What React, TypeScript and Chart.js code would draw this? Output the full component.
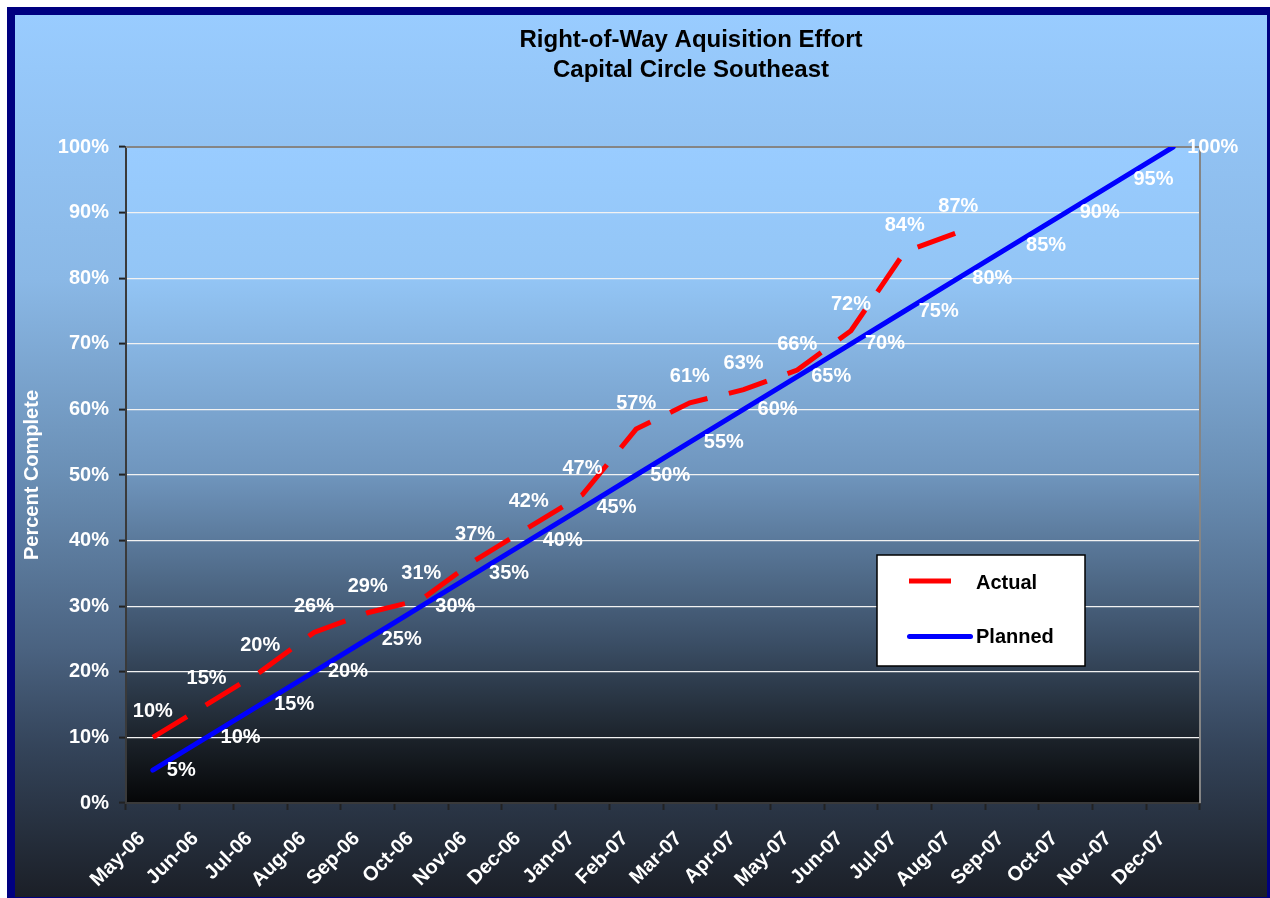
import React, { useEffect, useRef } from "react";
import { Chart, registerables } from "chart.js";

Chart.register(...registerables);

const months = [
  "May-06", "Jun-06", "Jul-06", "Aug-06", "Sep-06", "Oct-06", "Nov-06", "Dec-06",
  "Jan-07", "Feb-07", "Mar-07", "Apr-07", "May-07", "Jun-07", "Jul-07", "Aug-07",
  "Sep-07", "Oct-07", "Nov-07", "Dec-07",
];
const actualValues = [10, 15, 20, 26, 29, 31, 37, 42, 47, 57, 61, 63, 66, 72, 84, 87];
const plannedValues = [5, 10, 15, 20, 25, 30, 35, 40, 45, 50, 55, 60, 65, 70, 75, 80, 85, 90, 95, 100];
const seriesNames = ["Actual", "Planned"];
const titleLines = ["Right-of-Way Aquisition Effort", "Capital Circle Southeast"];
const yAxisTitle = "Percent Complete";
const yMin = 0;
const yMax = 100;
const yStep = 10;

const FONT = '"Liberation Sans", Arial, Helvetica, sans-serif';

const backgroundPlugin = {
  id: "plotBackground",
  beforeDraw(chart: any) {
    const { ctx, chartArea } = chart;
    const { left, top, right, bottom } = chartArea;
    const g = ctx.createLinearGradient(0, top, 0, bottom);
    g.addColorStop(0, "#99ccff");
    g.addColorStop(0.2, "#93c5f5");
    g.addColorStop(0.5, "#6f95bd");
    g.addColorStop(0.75, "#3c5068");
    g.addColorStop(0.9, "#1c232b");
    g.addColorStop(1, "#050607");
    ctx.save();
    ctx.fillStyle = g;
    ctx.fillRect(left, top, right - left, bottom - top);
    ctx.restore();

    // title
    ctx.save();
    ctx.fillStyle = "#000";
    ctx.font = `bold 24px ${FONT}`;
    ctx.textAlign = "center";
    ctx.textBaseline = "middle";
    titleLines.forEach((t, i) => ctx.fillText(t, 676, 25 + i * 30));
    ctx.restore();
  },
  beforeDatasetsDraw(chart: any) {
    const { ctx, chartArea } = chart;
    const { left, top, right, bottom } = chartArea;
    ctx.save();
    ctx.strokeStyle = "#858585";
    ctx.lineWidth = 2;
    ctx.beginPath();
    ctx.moveTo(left, top);
    ctx.lineTo(right, top);
    ctx.lineTo(right, bottom);
    ctx.stroke();
    ctx.restore();
  },
};

const labelPlugin = {
  id: "valueLabels",
  afterDatasetsDraw(chart: any) {
    const ctx = chart.ctx;
    ctx.save();
    ctx.font = `bold 20px ${FONT}`;
    ctx.fillStyle = "#ffffff";
    ctx.textBaseline = "middle";
    chart.data.datasets.forEach((ds: any, i: number) => {
      const meta = chart.getDatasetMeta(i);
      meta.data.forEach((pt: any, j: number) => {
        const v = ds.data[j];
        if (v === null || v === undefined) return;
        const txt = `${v}%`;
        if (i === 0) {
          ctx.textAlign = "center";
          ctx.fillText(txt, pt.x, pt.y - 26);
        } else {
          ctx.textAlign = "left";
          ctx.fillText(txt, pt.x + 14, pt.y);
        }
      });
    });
    ctx.restore();
  },
  afterDraw(chart: any) {
    const ctx = chart.ctx;
    const x0 = 862, y0 = 540, w = 208, h = 111;
    ctx.save();
    ctx.fillStyle = "#ffffff";
    ctx.fillRect(x0, y0, w, h);
    ctx.strokeStyle = "#000000";
    ctx.lineWidth = 1.5;
    ctx.strokeRect(x0, y0, w, h);
    const ds = chart.data.datasets;
    // Actual
    ctx.strokeStyle = ds[0].borderColor;
    ctx.lineWidth = 5;
    ctx.lineCap = "butt";
    ctx.beginPath();
    ctx.moveTo(894, 566);
    ctx.lineTo(936, 566);
    ctx.stroke();
    // Planned
    ctx.strokeStyle = ds[1].borderColor;
    ctx.lineCap = "round";
    ctx.beginPath();
    ctx.moveTo(894.5, 621.5);
    ctx.lineTo(955.5, 621.5);
    ctx.stroke();
    ctx.fillStyle = "#000";
    ctx.font = `bold 20px ${FONT}`;
    ctx.textAlign = "left";
    ctx.textBaseline = "middle";
    ctx.fillText(ds[0].label, 961, 568);
    ctx.fillText(ds[1].label, 961, 622);
    ctx.restore();
  },
};

export default function App() {
  const canvasRef = useRef<HTMLCanvasElement | null>(null);

  useEffect(() => {
    if (!canvasRef.current) return;
    const chart = new Chart(canvasRef.current, {
      type: "line",
      data: {
        labels: months,
        datasets: [
          {
            label: seriesNames[0],
            data: actualValues,
            borderColor: "#ff0000",
            backgroundColor: "#ff0000",
            borderWidth: 5,
            borderDash: [40, 22],
            borderCapStyle: "butt",
            pointRadius: 0,
            tension: 0,
            fill: false,
            order: 1,
          },
          {
            label: seriesNames[1],
            data: plannedValues,
            borderColor: "#0000ff",
            backgroundColor: "#0000ff",
            borderWidth: 5,
            borderCapStyle: "round",
            borderJoinStyle: "round",
            pointRadius: 0,
            tension: 0,
            fill: false,
            order: 0,
          },
        ],
      },
      options: {
        responsive: false,
        animation: false,
        devicePixelRatio: 1,
        layout: { padding: { top: 132, right: 67, bottom: 0, left: 0 } },
        plugins: {
          legend: { display: false },
          title: { display: false },
          tooltip: { enabled: false },
        },
        scales: {
          x: {
            type: "category",
            offset: true,
            grid: {
              offset: true,
              drawOnChartArea: false,
              drawTicks: true,
              tickLength: 7,
              tickColor: "#222222",
              tickWidth: 2,
            },
            border: { color: "#3a3a3a", width: 2 },
            ticks: {
              color: "#ffffff",
              font: { family: FONT, size: 20, weight: "bold" },
              maxRotation: 45,
              minRotation: 45,
              autoSkip: false,
              padding: 17,
              labelOffset: -11,
            },
            afterFit: (s: any) => {
              s.height = 94;
            },
          },
          y: {
            min: yMin,
            max: yMax,
            ticks: {
              stepSize: yStep,
              color: "#ffffff",
              font: { family: FONT, size: 20, weight: "bold" },
              padding: 10,
              callback: (v: any) => `${v}%`,
            },
            grid: {
              color: (c: any) =>
                c.tick && (c.tick.value === yMax || c.tick.value === yMin) ? "rgba(0,0,0,0)" : "#f2f2f2",
              lineWidth: 1.2,
              drawTicks: true,
              tickLength: 7,
              tickColor: "#222222",
              tickWidth: 2,
            },
            border: { color: "#3a3a3a", width: 2 },
            title: {
              display: true,
              text: yAxisTitle,
              color: "#ffffff",
              font: { family: FONT, size: 20, weight: "bold" },
              padding: { top: 5, bottom: 0 },
            },
            afterFit: (s: any) => {
              s.width = 111;
            },
          },
        },
      },
      plugins: [backgroundPlugin, labelPlugin],
    } as any);
    return () => chart.destroy();
  }, []);

  return (
    <div style={{ position: "fixed", inset: 0, overflow: "hidden", background: "#ffffff" }}>
      <div
        style={{
          position: "absolute",
          left: 7,
          top: 7,
          width: 1268,
          height: 898,
          boxSizing: "border-box",
          border: "8px solid #000080",
          background:
            "linear-gradient(to bottom, #99ccff 0%, #8ab8e6 30%, #6a8fb5 52%, #4a6280 72%, #34445a 83%, #1b1f27 100%)",
        }}
      >
        <canvas
          ref={canvasRef}
          width={1252}
          height={882}
          style={{ display: "block", width: 1252, height: 882 }}
        />
      </div>
    </div>
  );
}
